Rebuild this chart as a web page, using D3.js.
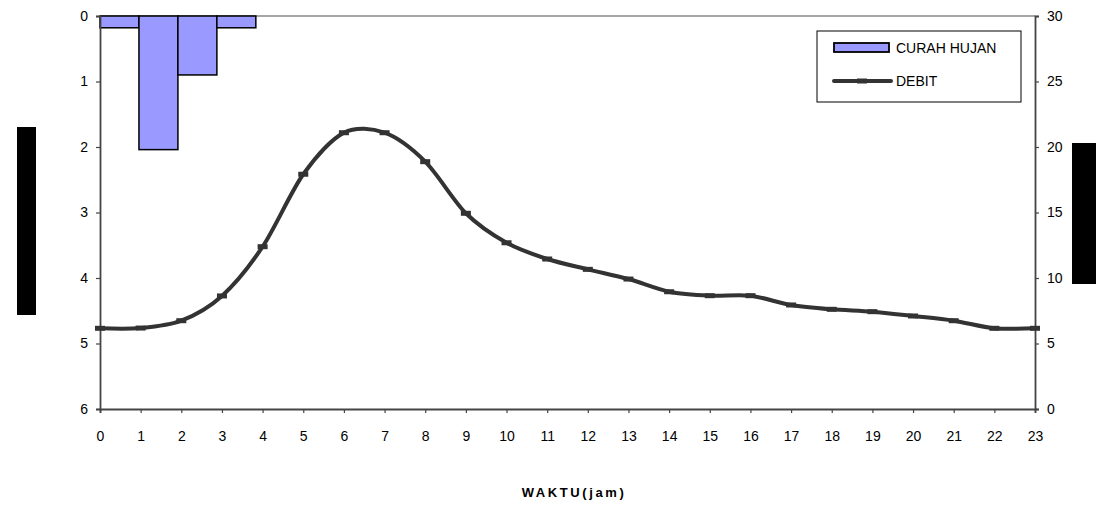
<!DOCTYPE html>
<html><head><meta charset="utf-8">
<script src="https://cdn.jsdelivr.net/npm/d3@7"></script>
<style>
body{margin:0;background:#fff;}
svg{display:block;font-family:"Liberation Sans",Arial,sans-serif;}
</style></head>
<body><svg id="c" width="1105" height="520"></svg>
<script>
const hours = d3.range(0,24).map(String);
const rain = [0.18,2.04,0.9,0.18,0,0,0,0,0,0,0,0,0,0,0,0,0,0,0,0,0,0,0,0];
const debit = [6.16,6.18,6.74,8.63,12.39,17.92,21.09,21.09,18.88,14.94,12.69,11.45,10.66,9.92,8.95,8.65,8.65,7.94,7.61,7.43,7.10,6.74,6.16,6.16];
const leftTicks = [0,1,2,3,4,5,6];
const rightTicks = [0,5,10,15,20,25,30];
const legendLabels = ["CURAH HUJAN","DEBIT"];
const xTitle = "WAKTU(jam)";

const svg = d3.select("#c");
const L=100,R=1035,T=16,B=409;
const xBand = d3.scaleBand().domain(hours).range([L,R]).padding(0);
const xPt = d3.scalePoint().domain(hours).range([L,R]);
const yL = d3.scaleLinear().domain([0,6]).range([T,B]);
const yR = d3.scaleLinear().domain([0,30]).range([B,T]);

// top line
svg.append("line").attr("x1",L).attr("x2",R).attr("y1",T).attr("y2",T).attr("stroke","#888").attr("stroke-width",1.5);

// bars
svg.append("g").selectAll("rect").data(rain.map((v,i)=>({h:hours[i],v})).filter(d=>d.v>0)).join("rect")
  .attr("x",d=>xBand(d.h)).attr("width",xBand.bandwidth())
  .attr("y",yL(0)).attr("height",d=>yL(d.v)-yL(0))
  .attr("fill","#9999ff").attr("stroke","#000").attr("stroke-width",1.5);

// axes
const axL = svg.append("g").attr("transform",`translate(${L},0)`).call(d3.axisLeft(yL).tickValues(leftTicks).tickFormat(d3.format("d")).tickSize(4).tickPadding(8));
const axR = svg.append("g").attr("transform",`translate(${R},0)`).call(d3.axisRight(yR).tickValues(rightTicks).tickFormat(d3.format("d")).tickSize(4).tickPadding(8));
const axB = svg.append("g").attr("transform",`translate(0,${B})`).call(d3.axisBottom(xPt).tickSize(4).tickPadding(18));
[axL,axR,axB].forEach(a=>{
  a.select(".domain").attr("stroke","#444").attr("stroke-width",1.8);
  a.selectAll(".tick line").attr("stroke","#444").attr("stroke-width",1.2);
  a.selectAll(".tick text").attr("font-size",14).attr("fill","#000").attr("font-family","Liberation Sans, Arial, sans-serif");
});

// line
const line = d3.line().x((d,i)=>xPt(hours[i])).y(d=>yR(d)).curve(d3.curveCardinal.tension(0.1));
svg.append("path").datum(debit).attr("d",line).attr("fill","none").attr("stroke","#333").attr("stroke-width",4);
svg.append("g").selectAll("rect").data(debit).join("rect")
  .attr("x",(d,i)=>xPt(hours[i])-5).attr("y",d=>yR(d)-2.5).attr("width",10).attr("height",5).attr("fill","#333");

// black boxes (axis titles)
svg.append("rect").attr("x",17).attr("y",127).attr("width",19).attr("height",188).attr("fill","#000");
svg.append("rect").attr("x",1072).attr("y",143).attr("width",24).attr("height",141).attr("fill","#000");

// legend
const lg = svg.append("g");
lg.append("rect").attr("x",817).attr("y",31).attr("width",204).attr("height",71).attr("fill","#fff").attr("stroke","#000").attr("stroke-width",1);
lg.append("rect").attr("x",834).attr("y",43).attr("width",55).attr("height",9).attr("fill","#9999ff").attr("stroke","#000").attr("stroke-width",1.8);
lg.append("text").attr("x",896).attr("y",53).attr("font-size",14).text(legendLabels[0]);
lg.append("line").attr("x1",834).attr("x2",891).attr("y1",81).attr("y2",81).attr("stroke","#333").attr("stroke-width",4).attr("stroke-linecap","round");
lg.append("rect").attr("x",857).attr("y",78.5).attr("width",10).attr("height",5).attr("fill","#333");
lg.append("text").attr("x",896).attr("y",86).attr("font-size",14).text(legendLabels[1]);

// x title
svg.append("text").attr("x",574).attr("y",497).attr("text-anchor","middle").attr("font-size",13).attr("font-weight","bold").attr("letter-spacing","2.6px").text(xTitle);
</script></body></html>
